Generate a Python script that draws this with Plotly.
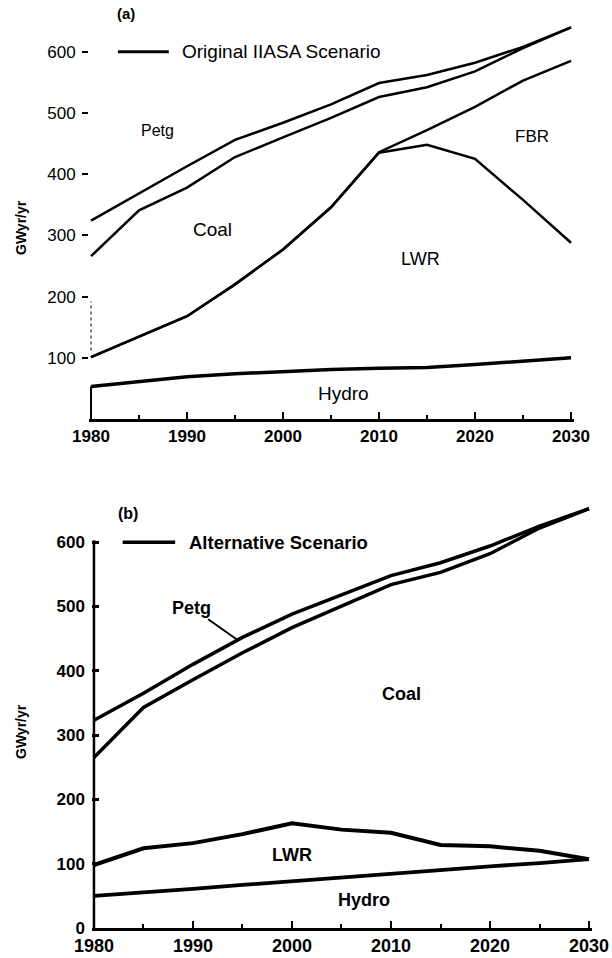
import numpy as np
import plotly.graph_objects as go

# data (boundary curves of the stacked areas, GWyr/yr)
years = [1980, 1985, 1990, 1995, 2000, 2005, 2010, 2015, 2020, 2025, 2030]

# (a) original IIASA scenario
hydro_a = [53, 61, 69, 74, 78, 81, 83, 84, 89, 95, 100]
lwr_a = [101, 135, 168, 220, 277, 346, 435, 448, 425, 358, 288]
fbr_a = [101, 135, 168, 220, 277, 346, 436, 472, 510, 553, 585]
coal_a = [266, 341, 378, 428, 460, 492, 526, 542, 568, 606, 640]
petg_a = [324, 369, 413, 456, 484, 514, 549, 562, 582, 608, 640]

# (b) alternative scenario
hydro_b = [50, 55, 61, 67, 73, 78, 84, 90, 96, 101, 107]
lwr_b = [98, 124, 132, 146, 163, 153, 148, 129, 127, 120, 107]
coal_b = [265, 343, 386, 428, 467, 501, 534, 553, 582, 622, 652]
petg_b = [323, 365, 410, 452, 488, 518, 548, 568, 594, 625, 652]

y_ticks = [100, 200, 300, 400, 500, 600]
y_ticks_b = [0, 100, 200, 300, 400, 500, 600]
x_ticks = [1980, 1990, 2000, 2010, 2020, 2030]

FONT = "Liberation Sans, Arial, sans-serif"
W, H = 612, 958

fig = go.Figure()

for curve, w in [(hydro_a, 3.5), (lwr_a, 2.5), (fbr_a, 2.5), (coal_a, 2.5), (petg_a, 2.5)]:
    fig.add_trace(go.Scatter(x=years, y=curve, mode="lines", xaxis="x", yaxis="y",
                             line=dict(color="black", width=w), showlegend=False))

for curve, w in [(hydro_b, 3.8), (lwr_b, 4), (coal_b, 3.5), (petg_b, 3.5)]:
    fig.add_trace(go.Scatter(x=years, y=curve, mode="lines", xaxis="x2", yaxis="y2",
                             line=dict(color="black", width=w), showlegend=False))

xcommon = dict(range=[1979.8, 2030.3], tickvals=x_ticks, ticks="inside", ticklen=7,
               tickwidth=2, tickcolor="black", showline=True, linecolor="black",
               linewidth=2.5, showgrid=False, zeroline=False, automargin=False,
               minor=dict(dtick=5, tick0=1980, ticks="inside", ticklen=4,
                          tickwidth=1.5, tickcolor="black"))

fig.update_layout(
    width=W, height=H,
    margin=dict(l=0, r=0, t=0, b=0),
    paper_bgcolor="white", plot_bgcolor="white",
    font=dict(family=FONT, color="black"),
    xaxis=dict(domain=[0.1456, 0.9377], anchor="y",
               tickfont=dict(size=17, family=FONT, weight="bold"), **xcommon),
    yaxis=dict(domain=[0.5626, 0.9811], anchor="x", range=[0, 655],
               tickvals=y_ticks, ticks="outside", ticklen=6, tickwidth=2,
               tickcolor="black", showline=False, showgrid=False, zeroline=False,
               automargin=False, ticklabelstandoff=3,
               tickfont=dict(size=17, family=FONT)),
    xaxis2=dict(domain=[0.1503, 0.9673], anchor="y2",
                tickfont=dict(size=18, family=FONT, weight="bold"), **xcommon),
    yaxis2=dict(domain=[0.0313, 0.4777], anchor="x2", range=[0, 665],
                tickvals=y_ticks_b, ticks="inside", ticklen=7, tickwidth=2.5,
                tickcolor="black", showline=False, showgrid=False, zeroline=False,
                automargin=False, ticklabelstandoff=6,
                tickfont=dict(size=17, family=FONT, weight="bold")),
)

# partial y-axis lines as in the original drawing
fig.add_shape(type="line", xref="x", yref="y", x0=1980, x1=1980, y0=0, y1=hydro_a[0],
              line=dict(color="black", width=2))
fig.add_shape(type="line", xref="x", yref="y", x0=1980, x1=1980, y0=112, y1=192,
              line=dict(color="black", width=1, dash="dot"))
fig.add_shape(type="line", xref="x2", yref="y2", x0=1980, x1=1980, y0=0, y1=603,
              line=dict(color="black", width=2.5))

# in-plot legend keys
fig.add_shape(type="line", xref="x", yref="y", x0=1982.8, x1=1988.1, y0=600, y1=600,
              line=dict(color="black", width=3))
fig.add_shape(type="line", xref="x2", yref="y2", x0=1982.9, x1=1988.2, y0=600, y1=600,
              line=dict(color="black", width=3.5))


def label(text, x, y, ax="x", ay="y", size=14, bold=False, **kw):
    fig.add_annotation(text=text, x=x, y=y, xref=ax, yref=ay, showarrow=False,
                       font=dict(size=size, family=FONT,
                                 weight="bold" if bold else "normal"), **kw)


label("Original IIASA Scenario", 1989.3, 600, size=19, xanchor="left")
label("Petg", 1986.9, 472, size=16)
label("Coal", 1992.7, 309, size=19)
label("LWR", 2014.3, 261, size=18)
label("FBR", 2025.9, 461, size=17)
label("Hydro", 2006.3, 42, size=19)

label("Alternative Scenario", 1989.4, 600, ax="x2", ay="y2", size=18.5, bold=True,
      xanchor="left")
label("(b)", 1983.4, 645, ax="x2", ay="y2", size=16, bold=True)
label("Coal", 2011.1, 364, ax="x2", ay="y2", size=18, bold=True)
label("LWR", 2000.0, 114, ax="x2", ay="y2", size=18, bold=True)
label("Hydro", 2007.3, 44, ax="x2", ay="y2", size=18, bold=True)

# "(a)" sits above the top of panel (a), so place it on the page
fig.add_annotation(text="(a)", x=126 / W, y=1 - 13 / H, xref="paper", yref="paper",
                   xanchor="center", yanchor="middle", showarrow=False,
                   font=dict(size=15, family=FONT, weight="bold"))

tip_year = 1994.5
fig.add_annotation(text="Petg", x=tip_year, y=float(np.interp(tip_year, years, petg_b)),
                   xref="x2", yref="y2", axref="x2", ayref="y2", ax=1989.9, ay=498,
                   showarrow=True, arrowhead=0, arrowwidth=2, arrowcolor="black",
                   font=dict(size=18, family=FONT, weight="bold"))

for ypix in (228, 732):
    fig.add_annotation(text="GWyr/yr", x=21 / W, y=1 - ypix / H,
                       xref="paper", yref="paper", xanchor="center", yanchor="middle",
                       showarrow=False, textangle=-90,
                       font=dict(size=14, family=FONT, weight="bold"))

# drop the browser's default 8px body margin so the figure fills the window exactly
fig.write_html("out.html", config={"displayModeBar": False},
               post_script="document.body.style.margin='0';"
                           "document.body.style.overflow='hidden';")
